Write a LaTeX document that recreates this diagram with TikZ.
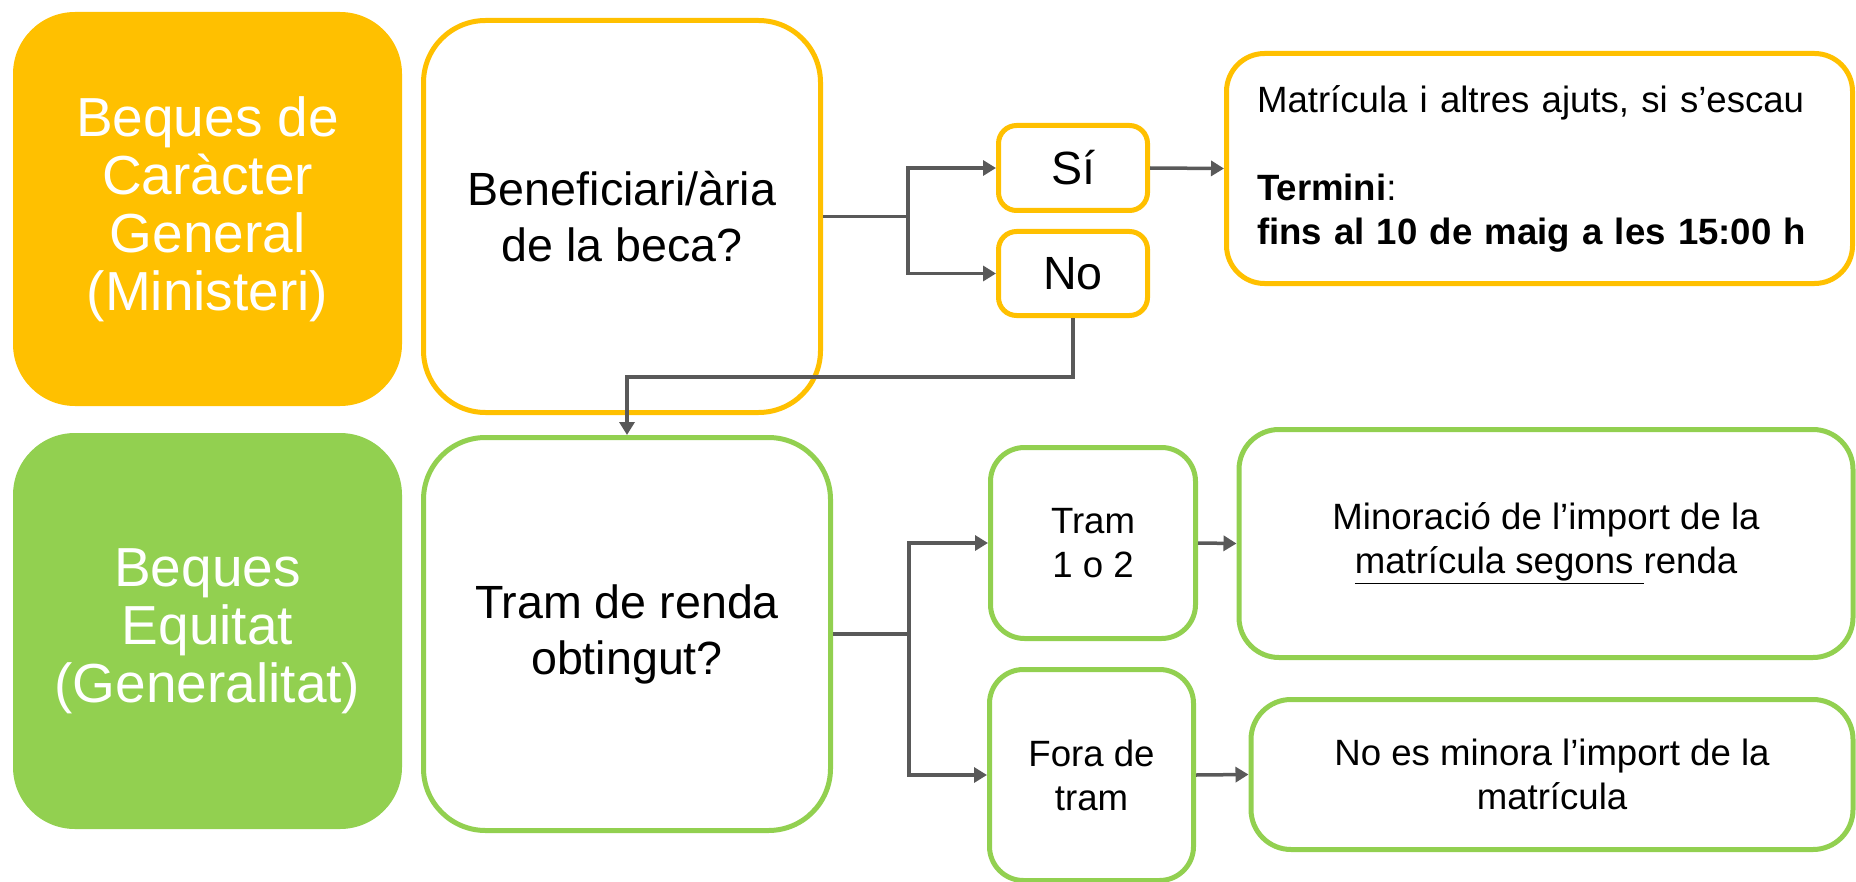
\documentclass[tikz,border=0pt]{standalone}
\usepackage{fontspec}
\setmainfont{Liberation Sans}
\usetikzlibrary{arrows.meta,calc}
\definecolor{ylw}{HTML}{FFC000}
\definecolor{grn}{HTML}{92D050}
\definecolor{connc}{HTML}{595959}
\begin{document}
\begin{tikzpicture}[x=0.5pt,y=-0.5pt,
  bigfill/.style={rectangle, rounded corners=31pt, draw=none, text=white,
    font=\fontsize{27.5}{29}\selectfont, align=center, inner sep=0pt},
  outl/.style={rectangle, line width=2.5pt, fill=white, align=center, inner sep=0pt, text=black},
  ybox/.style={outl, draw=ylw},
  gbox/.style={outl, draw=grn},
  medf/.style={font=\fontsize{23.3}{28}\selectfont},
  smallf/.style={font=\fontsize{18.3}{22}\selectfont},
  connline/.style={draw=connc, line width=1.75pt},
  arr/.style={connline, -{Triangle[length=6.5pt,width=7.5pt]}}
]
\useasboundingbox (0,0) rectangle (1856,882);
\clip (0,0) rectangle (1856,882);

% top row (yellow)
\node[bigfill, fill=ylw, minimum width=194.5pt, minimum height=197pt] (yfill) at (207.5,209)
  {Beques de\\Caràcter\\General\\(Ministeri)};
\node[ybox, medf, rounded corners=31pt, minimum width=198.5pt, minimum height=196pt] (benef) at (622,216.5)
  {Beneficiari/ària\\de la beca?};
\node[ybox, medf, rounded corners=9pt, minimum width=74.5pt, minimum height=42.5pt] (si) at (1073,168) {Sí};
\node[ybox, medf, rounded corners=9pt, minimum width=74.5pt, minimum height=42pt] (no) at (1073,273.5) {No};
\node[ybox, smallf, rounded corners=19pt, minimum width=313pt, minimum height=115pt,
  align=left, text width=282.5pt] (matr) at (1539.5,168.5)
  {Matrícula i altres ajuts, si s’escau\\[22pt]\textbf{Termini}:\\\textbf{fins al 10 de maig a les 15:00 h}};

% bottom row (green)
\node[bigfill, fill=grn, minimum width=194.5pt, minimum height=198pt] (gfill) at (207.5,631)
  {Beques\\Equitat\\(Generalitat)};
\node[gbox, medf, rounded corners=31pt, minimum width=203.5pt, minimum height=196.5pt] (tramrenda) at (627,634)
  {Tram de renda\\obtingut?};
\node[gbox, smallf, rounded corners=17pt, minimum width=102.5pt, minimum height=95.5pt] (tram12) at (1093,543)
  {Tram\\1 o 2};
\node[gbox, smallf, rounded corners=17pt, minimum width=102pt, minimum height=105.5pt] (fora) at (1091.5,775)
  {Fora de\\tram};
\node[gbox, smallf, rounded corners=20pt, minimum width=307pt, minimum height=114pt] (minor) at (1546,543.5)
  {Minoració de l’import de la\\\underline{matrícula segons\ }renda};
\node[gbox, smallf, rounded corners=20pt, minimum width=301pt, minimum height=75pt] (noes) at (1552,774.5)
  {No es minora l’import de la\\matrícula};

% connectors
\coordinate (bj) at (908,216.5);
\draw[connline] (benef.east) -- (bj);
\draw[arr] (bj) |- (si.west);
\draw[arr] (bj) |- (no.west);
\draw[arr] (si.east) -- (matr.west);
\coordinate (nj) at (1073,377);
\draw[arr] (no.south) -- (nj) -| (tramrenda.north);
\coordinate (tj) at (909,634);
\draw[connline] (tramrenda.east) -- (tj);
\draw[arr] (tj) |- (tram12.west);
\draw[arr] (tj) |- (fora.west);
\draw[arr] (tram12.east) -- (minor.west);
\draw[arr] (fora.east) -- (noes.west);
\end{tikzpicture}
\end{document}
